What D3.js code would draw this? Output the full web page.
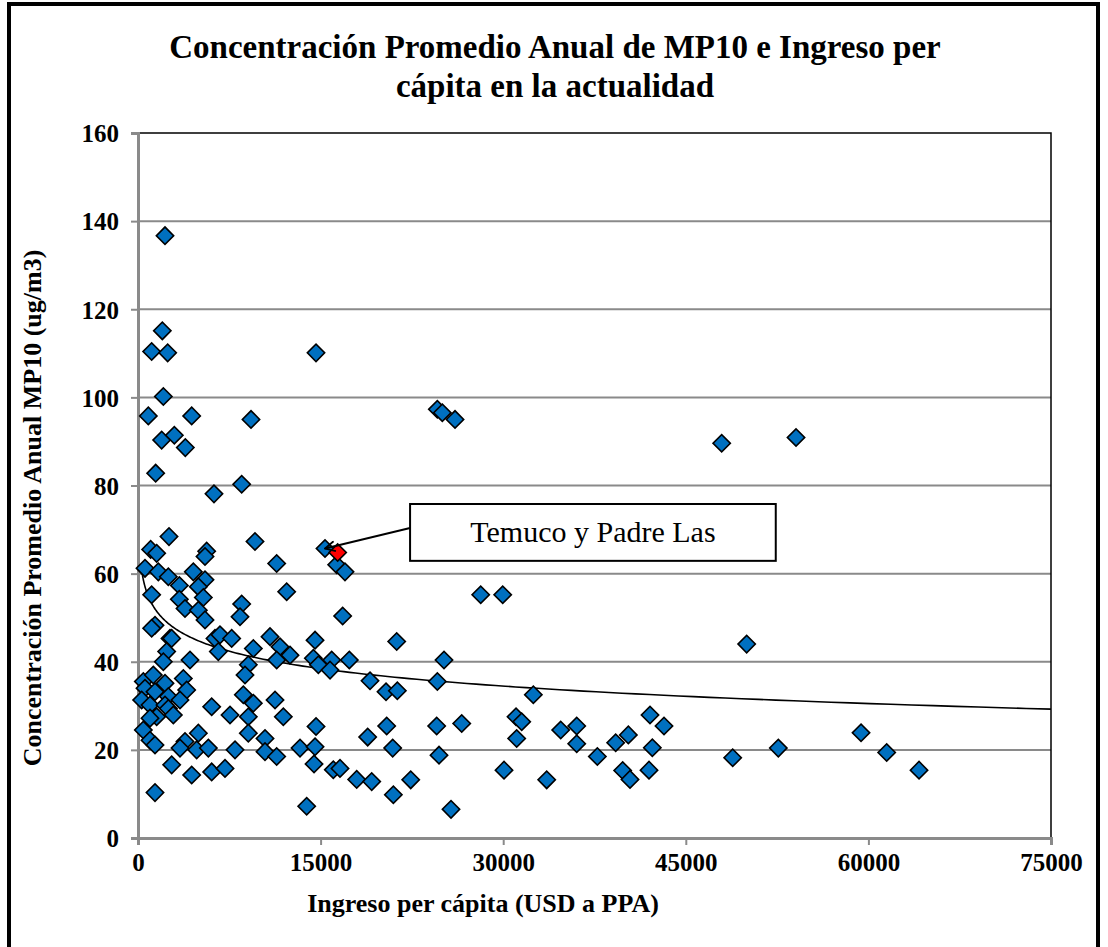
<!DOCTYPE html>
<html>
<head>
<meta charset="utf-8">
<script src="https://cdn.jsdelivr.net/npm/d3@7"></script>
<style>
  body { margin: 0; background: #fff; }
  svg { display: block; font-family: "Liberation Serif", "Times New Roman", serif; }
</style>
</head>
<body>
<div id="chart"></div>
<script>
// ===== data =====
// ingreso per capita (USD PPA), MP10 (ug/m3)
var ingreso = [
  2218,1998,1122,2437,14623,2081,848,4410,9283,1944,2985,3887,
  1452,6243,8517,2547,9611,1040,1533,5640,5504,11392,15362,575,
  1670,2492,4546,5504,3396,4957,12213,1122,3396,5367,3861,4957,
  8517,5504,8379,1397,1122,2629,
  2766,6325,6736,7695,10844,11665,12487,2355,9474,6599,2081,4272,
  11392,9063,8790,438,1259,2218,3723,575,3998,1397,2492,3450,
  301,986,8653,9474,11256,6052,2218,2492,7558,9063,11939,1533,
  2903,986,438,9063,4957,3861,986,1397,3450,4820,5779,7969,
  10433,10433,11392,2766,4410,6052,7147,1397,
  16812,14543,21252,14406,14817,15910,15774,17359,25138,19059,
  20374,21304,24590,32476,31053,31520,14625,20429,24535,26593,
  18868,31108,13309,14543,20922,14461,16045,16594,24727,17966,
  19198,22403,30067,33574,20977,13857,25713,
  24590,25000,26042,16320,17004,28152,29960,
  47948,54055,50000,34724,36039,36039,37734,39240,40280,42060,
  43210,42251,39815,40417,41978,48852,52600,59395,61503,64159
];
var mp10 = [
  136.7,115.1,110.4,110.1,110.1,100.2,95.8,95.8,95.0,90.3,91.4,88.6,
  82.8,78.1,80.3,68.4,67.3,65.5,64.6,65.1,63.9,62.3,65.7,61.2,
  60.4,59.3,60.4,58.6,57.3,57.0,55.9,55.2,54.2,54.6,52.1,51.7,
  53.1,49.5,50.2,48.3,47.6,45.3,
  45.3,45.3,46.1,45.3,45.7,43.4,41.5,42.3,43.0,42.3,40.0,40.4,
  40.4,39.3,37.0,35.5,37.0,35.1,36.2,34.0,33.6,33.2,32.1,31.3,
  31.3,30.2,32.5,30.6,31.3,29.8,30.2,29.4,27.9,27.5,27.5,27.5,
  27.9,27.2,24.5,23.8,23.8,21.9,22.2,21.1,20.4,20.0,20.4,20.0,
  22.6,19.6,18.5,16.6,14.3,15.0,15.8,10.3,
  50.4,44.9,44.6,40.8,39.3,40.4,38.1,40.4,40.4,35.7,
  33.2,33.4,35.5,32.5,27.5,26.4,25.3,25.4,25.4,26.0,
  22.9,22.6,20.4,20.7,20.4,16.8,15.5,15.8,18.8,13.3,
  12.8,13.2,15.4,13.2,9.8,7.2,6.5,
  97.3,96.5,95.0,62.0,60.4,55.2,55.2,
  89.6,90.9,44.0,24.5,25.4,21.4,18.5,21.6,23.4,27.9,
  25.4,20.5,15.3,13.3,15.4,18.2,20.4,23.9,19.4,15.4
];
// Temuco y Padre Las Casas
var temuco = [16402, 64.8];
var flecha = [15362, 65.7];   // point the arrow ends on
var xTicks = [0, 15000, 30000, 45000, 60000, 75000];
var yTicks = [0, 20, 40, 60, 80, 100, 120, 140, 160];

var titulo = ["Concentración Promedio Anual de MP10 e Ingreso per", "cápita en la actualidad"];
var tituloX = "Ingreso per cápita (USD a PPA)";
var tituloY = "Concentración Promedio Anual MP10 (ug/m3)";
var etiqueta = "Temuco y Padre Las";

var W = 1108, H = 947;
var svg = d3.select("#chart").append("svg").attr("width", W).attr("height", H);

var x = d3.scaleLinear().domain([0, 75000]).range([138, 1051]);
var y = d3.scaleLinear().domain([0, 160]).range([838, 133]);

// outer frame
svg.append("rect")
  .attr("x", 9).attr("y", 4).attr("width", 1089).attr("height", 960)
  .attr("fill", "none").attr("stroke", "#000").attr("stroke-width", 4);

// title
svg.append("text")
  .attr("x", 555).attr("y", 58)
  .attr("text-anchor", "middle")
  .attr("font-size", "33px").attr("font-weight", "bold")
  .selectAll("tspan").data(titulo).enter().append("tspan")
  .attr("x", 555).attr("dy", function(d, i){ return i ? 39 : 0 })
  .text(function(d){ return d });

// gridlines
svg.append("g").selectAll("line")
  .data(yTicks.filter(function(v){ return v > 0 && v < 160 }))
  .enter().append("line")
  .attr("x1", x(0)).attr("x2", x(75000))
  .attr("y1", function(d){ return y(d) }).attr("y2", function(d){ return y(d) })
  .attr("stroke", "#8a8a8a").attr("stroke-width", 2);

// top and right frame of plot
svg.append("path")
  .attr("d", "M" + x(0) + "," + y(160) + "H" + x(75000) + "V" + y(0))
  .attr("fill", "none").attr("stroke", "#000").attr("stroke-width", 1.5);

// axes
var yAxis = svg.append("g")
  .attr("transform", "translate(" + x(0) + ",0)")
  .call(d3.axisLeft(y).tickValues(yTicks).tickSize(7).tickPadding(12).tickFormat(d3.format("d")));
var xAxis = svg.append("g")
  .attr("transform", "translate(0," + y(0) + ")")
  .call(d3.axisBottom(x).tickValues(xTicks).tickSize(7).tickPadding(8).tickFormat(d3.format("d")));
[yAxis, xAxis].forEach(function(a){
  a.select(".domain").attr("stroke", "#8a8a8a").attr("stroke-width", 3);
  a.selectAll(".tick line").attr("stroke", "#8a8a8a").attr("stroke-width", 2);
  a.selectAll(".tick text")
    .attr("font-family", "Liberation Serif, serif")
    .attr("font-size", "25px").attr("font-weight", "bold").attr("fill", "#000");
});
yAxis.selectAll(".tick text").attr("dy", "0.35em");

// axis titles
svg.append("text")
  .attr("x", 483).attr("y", 912)
  .attr("text-anchor", "middle")
  .attr("font-size", "26px").attr("font-weight", "bold")
  .text(tituloX);
svg.append("text")
  .attr("transform", "translate(41,508) rotate(-90)")
  .attr("text-anchor", "middle")
  .attr("font-size", "26px").attr("font-weight", "bold")
  .text(tituloY);

// log trendline fitted from the points
var n = ingreso.length, sx = 0, sy = 0, sxx = 0, sxy = 0;
for (var i = 0; i < n; i++) {
  var lx = Math.log(ingreso[i]);
  sx += lx; sy += mp10[i]; sxx += lx * lx; sxy += lx * mp10[i];
}
var aa = (n * sxy - sx * sy) / (n * sxx - sx * sx);
var bb = (sy - aa * sx) / n;
var xmin = d3.min(ingreso);
var trend = d3.range(0, 201).map(function(k){
  var xv = xmin * Math.pow(75000 / xmin, k / 200);
  return [xv, aa * Math.log(xv) + bb];
});
svg.append("path")
  .datum(trend)
  .attr("d", d3.line().x(function(d){ return x(d[0]) }).y(function(d){ return y(d[1]) }))
  .attr("fill", "none").attr("stroke", "#000").attr("stroke-width", 1.6);

// points
var diamond = d3.symbol().type(d3.symbolSquare).size(150);
var pts = ingreso.map(function(v, i){ return [v, mp10[i]] });
svg.append("g").selectAll("path")
  .data(pts).enter().append("path")
  .attr("d", diamond)
  .attr("transform", function(d){ return "translate(" + x(d[0]) + "," + y(d[1]) + ") rotate(45)" })
  .attr("fill", "#0070c0").attr("stroke", "#000").attr("stroke-width", 1.6);
svg.append("path")
  .datum(temuco)
  .attr("d", diamond)
  .attr("transform", function(d){ return "translate(" + x(d[0]) + "," + y(d[1]) + ") rotate(45)" })
  .attr("fill", "#ff0000").attr("stroke", "#000").attr("stroke-width", 1.6);

// annotation box + arrow
var caja = { x0: 22350, x1: 52390, y0: 75.8, y1: 62.9 };
svg.append("defs").append("marker")
  .attr("id", "flecha").attr("viewBox", "0 0 12 12")
  .attr("refX", 11).attr("refY", 6).attr("markerWidth", 12).attr("markerHeight", 12)
  .attr("markerUnits", "userSpaceOnUse").attr("orient", "auto")
  .append("path").attr("d", "M1,1 L11,6 L1,11")
  .attr("fill", "none").attr("stroke", "#000").attr("stroke-width", 1.8);
svg.append("line")
  .attr("x1", x(caja.x0)).attr("y1", y(caja.y0) + 24)
  .attr("x2", x(flecha[0])).attr("y2", y(flecha[1]))
  .attr("stroke", "#000").attr("stroke-width", 2)
  .attr("marker-end", "url(#flecha)");
svg.append("rect")
  .attr("x", x(caja.x0)).attr("y", y(caja.y0))
  .attr("width", x(caja.x1) - x(caja.x0)).attr("height", y(caja.y1) - y(caja.y0))
  .attr("fill", "#fff").attr("stroke", "#000").attr("stroke-width", 2);
svg.append("text")
  .attr("x", (x(caja.x0) + x(caja.x1)) / 2).attr("y", y(caja.y1) - 19)
  .attr("text-anchor", "middle").attr("font-size", "30px")
  .text(etiqueta);
</script>
</body>
</html>
